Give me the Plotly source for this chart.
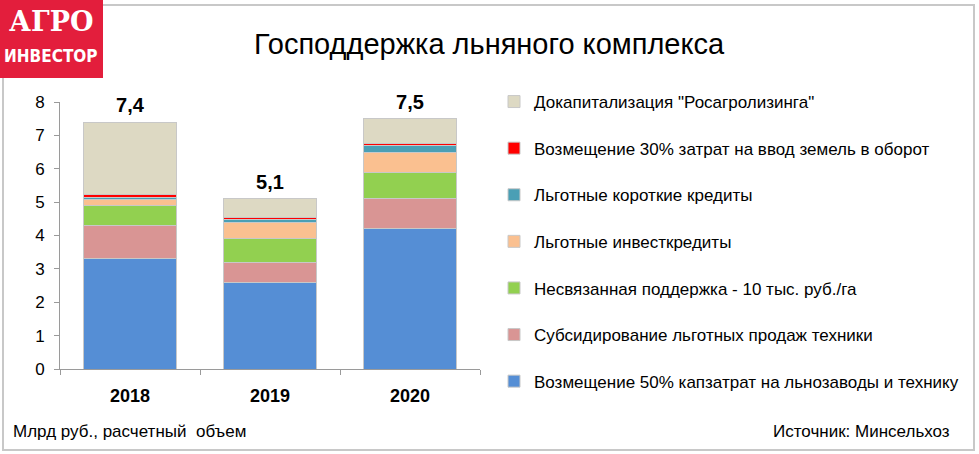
import plotly.graph_objects as go

W, H = 979, 454

years = ["2018", "2019", "2020"]
series_names = [
    "Возмещение 50% капзатрат на льнозаводы и технику",
    "Субсидирование льготных продаж техники",
    "Несвязанная поддержка - 10 тыс. руб./га",
    "Льготные инвесткредиты",
    "Льготные короткие кредиты",
    "Возмещение 30% затрат на ввод земель в оборот",
    "Докапитализация \"Росагролизинга\"",
]
v_capex = [3.3, 2.6, 4.2]
v_tech = [1.0, 0.6, 0.9]
v_unlinked = [0.6, 0.7, 0.8]
v_invest = [0.17, 0.5, 0.6]
v_short = [0.08, 0.07, 0.2]
v_land = [0.08, 0.08, 0.07]
v_rosagro = [2.17, 0.55, 0.73]
series_values = [v_capex, v_tech, v_unlinked, v_invest, v_short, v_land, v_rosagro]
colors = ["#558ed5", "#d99594", "#92d050", "#fac090", "#4a9fb5", "#ff0000", "#ddd9c3"]
y_ticks = [0, 1, 2, 3, 4, 5, 6, 7, 8]

FONT = "Liberation Sans, Arial, sans-serif"

def px_x(x):
    return x / W

def px_y(y):
    return 1 - y / H

fig = go.Figure()
n = len(series_names)
for i, (name, vals, col) in enumerate(zip(series_names, series_values, colors)):
    fig.add_trace(go.Bar(
        x=years, y=vals, name=name, legendgroup=f"g{i}", legendrank=n - i,
        marker=dict(color=col, line=dict(color="#c8c8c8", width=1)),
        hoverinfo="skip",
    ))

totals = [sum(s[j] for s in series_values) for j in range(len(years))]
total_labels = [f"{t:.1f}".replace(".", ",") for t in totals]
fig.add_trace(go.Scatter(
    x=years, y=totals, mode="markers+text", text=total_labels,
    marker=dict(size=6, color="rgba(0,0,0,0)"),
    textposition="top center", showlegend=False, hoverinfo="skip",
    cliponaxis=False,
    textfont=dict(family=FONT, size=20, color="black", weight="bold"),
))

annotations = []
# title
annotations.append(dict(
    x=px_x(490), y=px_y(44), xref="paper", yref="paper",
    text="Господдержка льняного комплекса", showarrow=False,
    xanchor="center", yanchor="middle",
    font=dict(family=FONT, size=29, color="black"),
))
# footer texts
annotations.append(dict(
    x=px_x(11), y=px_y(431), xref="paper", yref="paper",
    text="Млрд руб., расчетный  объем", showarrow=False,
    xanchor="left", yanchor="middle",
    font=dict(family=FONT, size=17, color="black"),
))
annotations.append(dict(
    x=px_x(952), y=px_y(431), xref="paper", yref="paper",
    text="Источник: Минсельхоз", showarrow=False,
    xanchor="right", yanchor="middle",
    font=dict(family=FONT, size=17, color="black"),
))
# logo texts
annotations.append(dict(
    x=px_x(51), y=px_y(21), xref="paper", yref="paper",
    text="<b>АГРО</b>", showarrow=False, xanchor="center", yanchor="middle",
    font=dict(family="DejaVu Serif, Liberation Serif, serif", size=27, color="white"),
))
annotations.append(dict(
    x=px_x(51), y=px_y(56), xref="paper", yref="paper",
    text="<b>ИНВЕСТОР</b>", showarrow=False, xanchor="center", yanchor="middle",
    font=dict(family="DejaVu Sans Condensed, Liberation Sans Narrow, sans-serif", size=17, color="white"),
))

shapes = [
    dict(type="rect", xref="paper", yref="paper",
         x0=px_x(3), x1=px_x(974), y0=px_y(450), y1=px_y(5),
         line=dict(color="#c8c8c8", width=2), layer="below"),
    dict(type="rect", xref="paper", yref="paper",
         x0=0, x1=px_x(103), y0=px_y(78), y1=1,
         line=dict(width=0), fillcolor="#e31e3c", layer="above"),
]

fig.update_layout(
    width=W, height=H,
    margin=dict(l=0, r=0, t=0, b=0, autoexpand=False),
    paper_bgcolor="white", plot_bgcolor="white",
    barmode="stack", bargap=0.33,
    showlegend=True,
    legend=dict(
        x=px_x(494), y=px_y(84), xanchor="left", yanchor="top",
        traceorder="grouped", tracegroupgap=21.5,
        font=dict(family=FONT, size=17, color="black"),
        bgcolor="rgba(0,0,0,0)", itemwidth=30,
    ),
    xaxis=dict(
        type="category", range=[-0.5, 2.5],
        domain=[px_x(60), px_x(480)],
        showline=True, linecolor="#9a9a9a", linewidth=1,
        ticks="outside", tickson="boundaries", ticklen=5, tickcolor="#9a9a9a",
        tickfont=dict(family=FONT, size=18, color="black", weight="bold"),
        ticklabelstandoff=10,
        showgrid=False,
    ),
    yaxis=dict(
        domain=[px_y(369), px_y(102)],
        range=[0, 8], tickvals=y_ticks,
        showline=True, linecolor="#9a9a9a", linewidth=1,
        ticks="outside", ticklen=5, tickcolor="#9a9a9a",
        tickfont=dict(family=FONT, size=17, color="black"),
        ticklabelstandoff=6,
        showgrid=False, zeroline=False,
    ),
    annotations=annotations,
    shapes=shapes,
)

fig.write_html("out.html", config={"displayModeBar": False},
               post_script="document.body.style.margin='0';")
